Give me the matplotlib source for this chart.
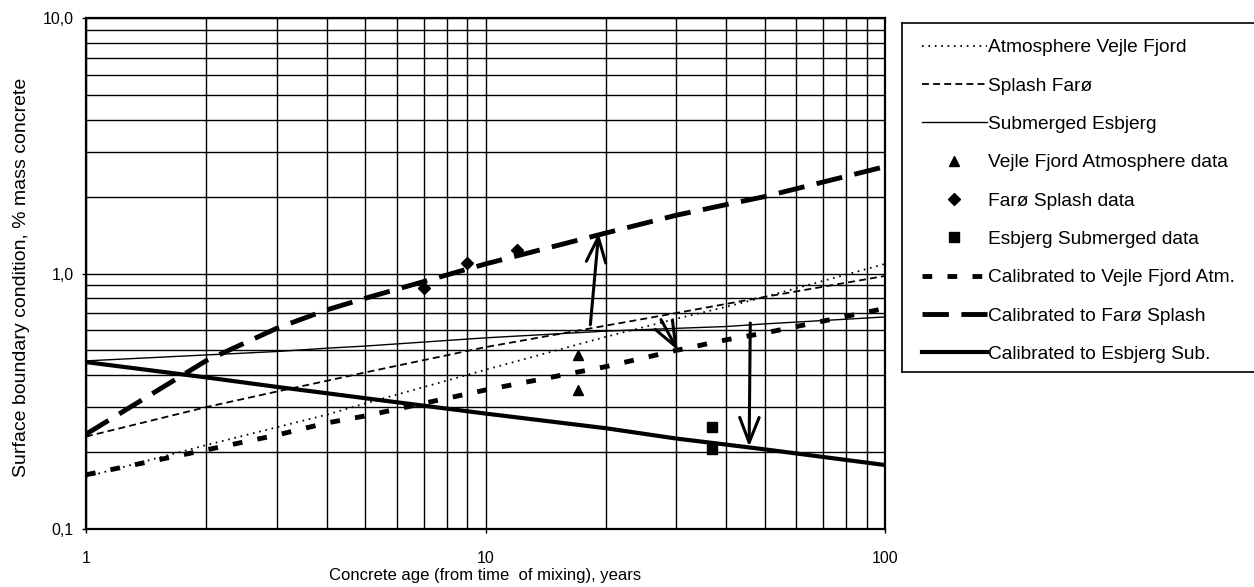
import matplotlib
matplotlib.use("Agg")
import matplotlib.pyplot as plt
from matplotlib.lines import Line2D
from matplotlib.ticker import FixedLocator, FixedFormatter, NullFormatter

plt.rcParams['font.family'] = ['Liberation Sans', 'DejaVu Sans']
plt.rcParams['lines.scale_dashes'] = False

# ---- data ----
age = [1, 2, 3, 4, 5, 10, 20, 30, 40, 50, 100]

atm_vejle = [0.16, 0.213, 0.25, 0.28, 0.31, 0.42, 0.565, 0.665, 0.74, 0.81, 1.09]
splash_faro = [0.23, 0.30, 0.345, 0.38, 0.41, 0.515, 0.625, 0.70, 0.76, 0.81, 0.978]
sub_esbjerg = [0.455, 0.48, 0.495, 0.51, 0.52, 0.56, 0.595, 0.61, 0.62, 0.635, 0.676]
cal_vejle = [0.163, 0.204, 0.233, 0.26, 0.277, 0.35, 0.432, 0.50, 0.55, 0.585, 0.73]
cal_faro = [0.235, 0.456, 0.61, 0.72, 0.80, 1.09, 1.44, 1.69, 1.86, 2.0, 2.62]
cal_esbjerg = [0.45, 0.392, 0.36, 0.34, 0.325, 0.283, 0.248, 0.226, 0.214, 0.205, 0.178]

vejle_data_x = [17, 17]
vejle_data_y = [0.48, 0.35]
faro_data_x = [7, 9, 12]
faro_data_y = [0.88, 1.10, 1.24]
esbjerg_data_x = [37, 37]
esbjerg_data_y = [0.25, 0.205]

# arrows: (x_start, y_start) -> (x_end, y_end)
arrow_start_x = [18.3, 27.5, 46.0]
arrow_start_y = [0.63, 0.66, 0.64]
arrow_end_x = [19.2, 30.3, 45.7]
arrow_end_y = [1.44, 0.50, 0.21]

xticks = [1, 10, 100]
xtick_labels = ['1', '10', '100']
yticks = [0.1, 1.0, 10.0]
ytick_labels = ['0,1', '1,0', '10,0']

xlabel = 'Concrete age (from time  of mixing), years'
ylabel = 'Surface boundary condition, % mass concrete'

labels = ['Atmosphere Vejle Fjord', 'Splash Farø', 'Submerged Esbjerg',
          'Vejle Fjord Atmosphere data', 'Farø Splash data', 'Esbjerg Submerged data',
          'Calibrated to Vejle Fjord Atm.', 'Calibrated to Farø Splash',
          'Calibrated to Esbjerg Sub.']

# ---- figure ----
W, H = 1254, 587
fig = plt.figure(figsize=(W/100, H/100), dpi=100)
ax = fig.add_axes([86/W, 1-529/H, (885-86)/W, (529-18)/H])
ax.set_xscale('log')
ax.set_yscale('log')
ax.set_xlim(1, 100)
ax.set_ylim(0.1, 10)

# grid
ax.grid(True, which='both', color='black', lw=1.0)
ax.set_axisbelow(True)

h_atm, = ax.plot(age, atm_vejle, color='black', lw=1.3, dashes=(1.2, 3.4))
h_spl, = ax.plot(age, splash_faro, color='black', lw=1.3, dashes=(5, 3))
h_sub, = ax.plot(age, sub_esbjerg, color='black', lw=1.0)
h_v = ax.plot(vejle_data_x, vejle_data_y, ls='none', marker='^', ms=7.5, color='black')[0]
h_f = ax.plot(faro_data_x, faro_data_y, ls='none', marker='D', ms=6, color='black')[0]
h_e = ax.plot(esbjerg_data_x, esbjerg_data_y, ls='none', marker='s', ms=6.5, color='black')[0]
h_cv, = ax.plot(age, cal_vejle, color='black', lw=3.5, dashes=(7, 11), dash_capstyle='butt')
h_cf, = ax.plot(age, cal_faro, color='black', lw=3.5, dashes=(19, 9), dash_capstyle='butt')
h_ce, = ax.plot(age, cal_esbjerg, color='black', lw=3.0)

for xs, ys, xe, ye in zip(arrow_start_x, arrow_start_y, arrow_end_x, arrow_end_y):
    ax.annotate('', xy=(xe, ye), xytext=(xs, ys),
                arrowprops=dict(arrowstyle='->,head_length=0.9,head_width=0.35',
                                lw=2.2, color='black', shrinkA=0, shrinkB=0,
                                mutation_scale=20))

ax.xaxis.set_major_locator(FixedLocator(xticks))
ax.xaxis.set_major_formatter(FixedFormatter(xtick_labels))
ax.xaxis.set_minor_formatter(NullFormatter())
ax.yaxis.set_major_locator(FixedLocator(yticks))
ax.yaxis.set_major_formatter(FixedFormatter(ytick_labels))
ax.yaxis.set_minor_formatter(NullFormatter())
ax.tick_params(which='major', direction='out', length=3, width=1, labelsize=11.5, color='black')
ax.tick_params(axis='x', which='major', pad=13)
ax.tick_params(axis='y', which='major', pad=6)
ax.tick_params(which='minor', length=0)
for s in ax.spines.values():
    s.set_linewidth(1.6)
    s.set_color('black')

ax.set_xlabel(xlabel, fontsize=12, labelpad=1.5)
ax.set_ylabel(ylabel, fontsize=14)
ax.yaxis.set_label_coords((30-86)/799, (529-277)/511)

# legend box (right side open, running off the figure edge)
box_l, box_t, box_b = 902, 23, 372
fig.add_artist(Line2D([box_l/W, 1.0], [1-box_t/H]*2, transform=fig.transFigure, color='black', lw=1.2))
fig.add_artist(Line2D([box_l/W, 1.0], [1-box_b/H]*2, transform=fig.transFigure, color='black', lw=1.2))
fig.add_artist(Line2D([box_l/W]*2, [1-box_t/H, 1-box_b/H], transform=fig.transFigure, color='black', lw=1.2))

handles = [h_atm, h_spl, h_sub, h_v, h_f, h_e, h_cv, h_cf, h_ce]
leg = fig.legend(handles, labels, loc='upper left', bbox_to_anchor=(922/W, 1-39/H),
                 frameon=False, fontsize=13.8,
                 handlelength=3.39, handletextpad=0.05, labelspacing=1.09,
                 borderpad=0, borderaxespad=0, numpoints=1)

fig.savefig('out.png', dpi=100)
